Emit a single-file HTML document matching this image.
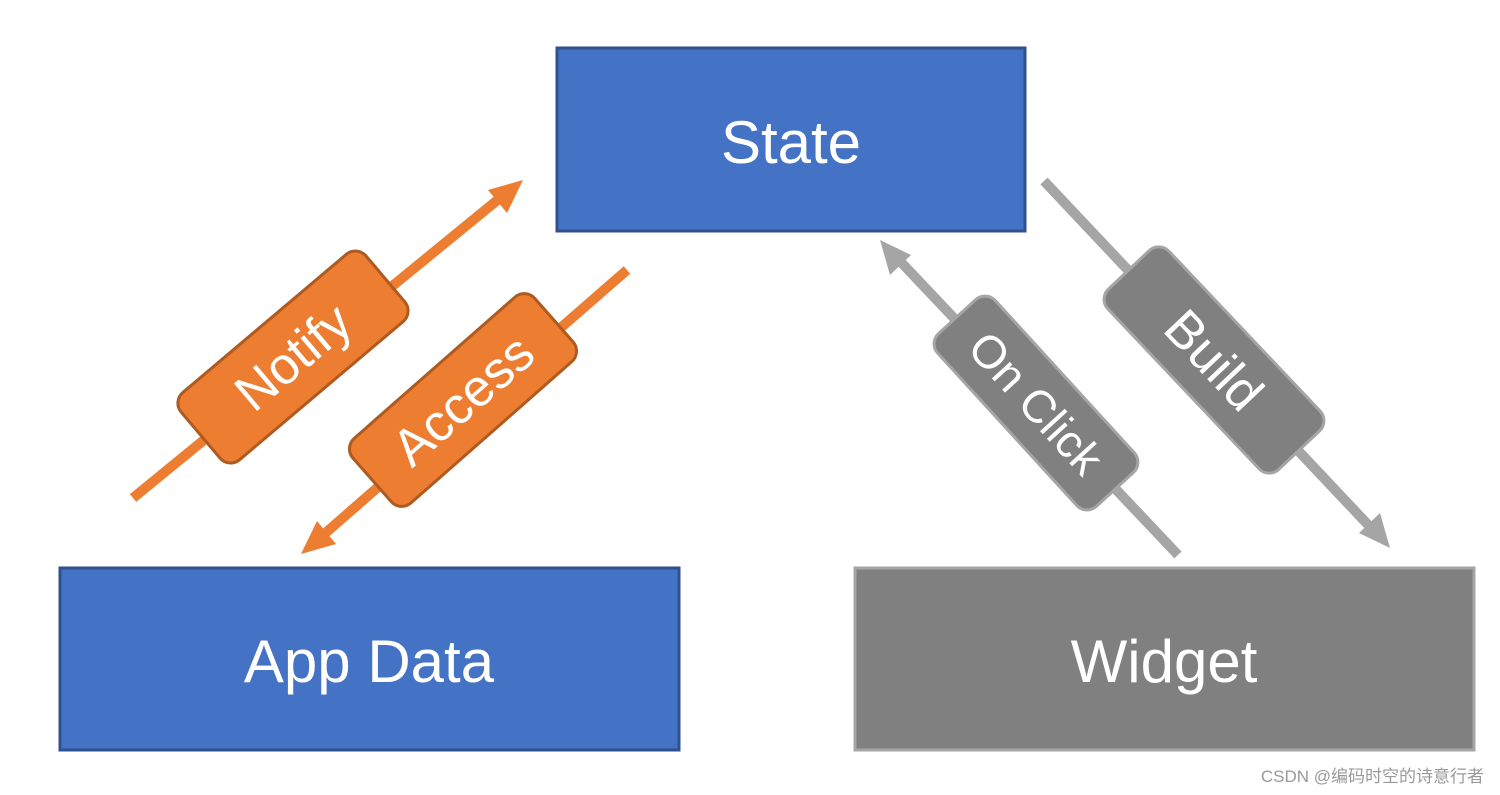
<!DOCTYPE html>
<html><head><meta charset="utf-8"><style>
html,body{margin:0;padding:0;background:#fff;}
svg{display:block;}
</style></head><body>
<svg width="1500" height="795" viewBox="0 0 1500 795" xmlns="http://www.w3.org/2000/svg" font-family="'Liberation Sans','Noto Sans CJK SC',sans-serif">
<rect width="1500" height="795" fill="#fff"/>
<!-- boxes -->
<rect x="557" y="48" width="468" height="183" fill="#4472C4" stroke="#2F528F" stroke-width="3"/>
<text x="791" y="163" font-size="60" fill="#fff" text-anchor="middle">State</text>
<rect x="60" y="568" width="619" height="182" fill="#4472C4" stroke="#2F528F" stroke-width="3"/>
<text x="369" y="682" font-size="60" fill="#fff" text-anchor="middle">App Data</text>
<rect x="855" y="568" width="619" height="182" fill="#808080" stroke="#A5A5A5" stroke-width="3"/>
<text x="1164" y="682" font-size="60" fill="#fff" text-anchor="middle">Widget</text>

<!-- orange arrows -->
<line x1="133" y1="498" x2="500" y2="198" stroke="#ED7D31" stroke-width="10"/>
<polygon points="523,180 488,190 507,213" fill="#ED7D31"/>
<line x1="627" y1="270" x2="322" y2="536" stroke="#ED7D31" stroke-width="10"/>
<polygon points="301,554 336,544 317,521" fill="#ED7D31"/>

<!-- gray arrows -->
<line x1="1178" y1="555" x2="898" y2="259" stroke="#A5A5A5" stroke-width="10"/>
<polygon points="880,240 890,275 911,255" fill="#A5A5A5"/>
<line x1="1044" y1="181" x2="1372" y2="529" stroke="#A5A5A5" stroke-width="10"/>
<polygon points="1390,548 1380,513 1359,533" fill="#A5A5A5"/>

<!-- labels -->
<g transform="translate(293,357) rotate(-40.2)">
<rect x="-121" y="-44" width="242" height="88" rx="14" fill="#ED7D31" stroke="#AE5A21" stroke-width="3"/>
<text x="0" y="18" font-size="52" fill="#fff" text-anchor="middle">Notify</text>
</g>
<g transform="translate(463,400) rotate(-41.3)">
<rect x="-121" y="-43" width="242" height="86" rx="14" fill="#ED7D31" stroke="#AE5A21" stroke-width="3"/>
<text x="0" y="18" font-size="52" fill="#fff" text-anchor="middle">Access</text>
</g>
<g transform="translate(1036,403) rotate(47.6)">
<rect x="-117" y="-39" width="234" height="78" rx="14" fill="#808080" stroke="#A5A5A5" stroke-width="3"/>
<text x="0" y="16" font-size="46" fill="#fff" text-anchor="middle">On Click</text>
</g>
<g transform="translate(1214,360) rotate(46.6)">
<rect x="-124" y="-42" width="248" height="84" rx="14" fill="#808080" stroke="#A5A5A5" stroke-width="3"/>
<text x="0" y="18" font-size="52" fill="#fff" text-anchor="middle">Build</text>
</g>

<text x="1484" y="782" font-size="17" fill="#999" text-anchor="end">CSDN @编码时空的诗意行者</text>
</svg>
</body></html>
